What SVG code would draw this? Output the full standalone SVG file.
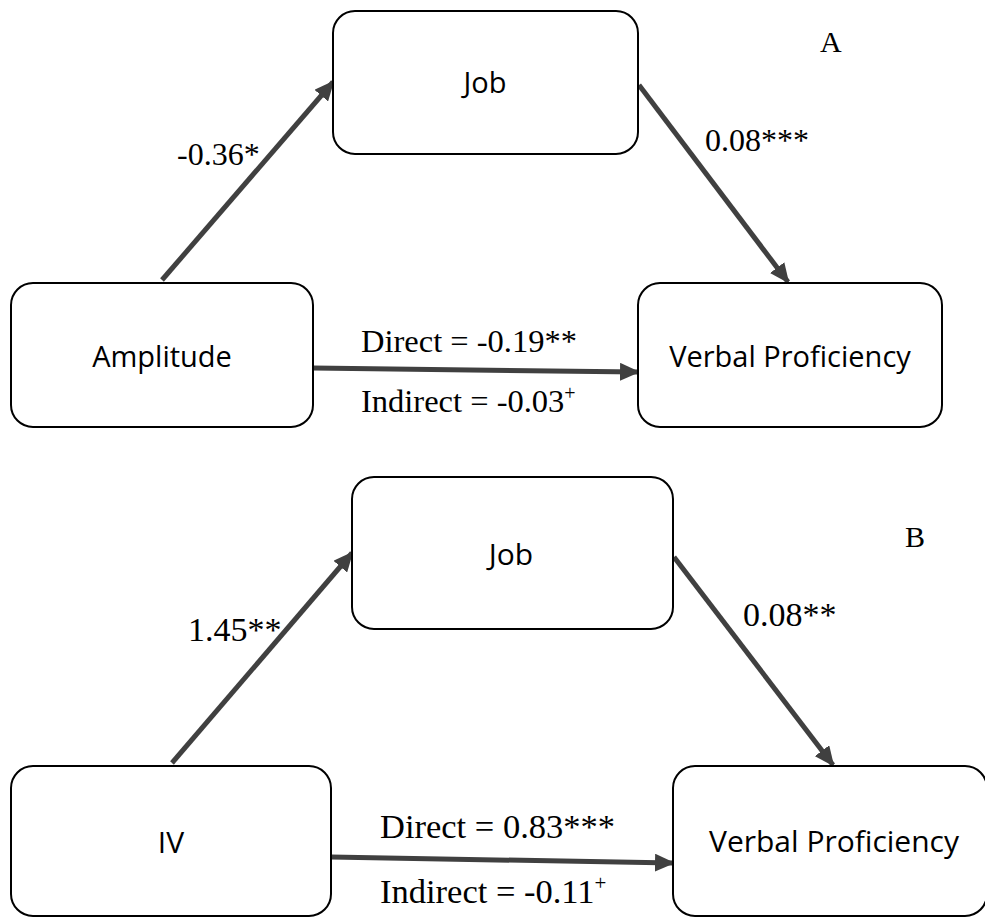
<svg xmlns="http://www.w3.org/2000/svg" width="985" height="918" viewBox="0 0 985 918">
<defs>
<style>
.box{fill:#fff;stroke:#000;stroke-width:2}
.nt{font-family:"Open Sans","Noto Sans",sans-serif;fill:#000;text-anchor:middle}
.lb{font-family:"Liberation Serif","Times New Roman",serif;fill:#000}
.ar{stroke:#404040;stroke-width:5;fill:none;marker-end:url(#ah)}
</style>
<marker id="ah" markerUnits="userSpaceOnUse" markerWidth="20" markerHeight="18" refX="18" refY="9" orient="auto" viewBox="0 0 20 18">
<path d="M0,0 L20,9 L0,18 Z" fill="#404040"/>
</marker>
</defs>
<rect width="985" height="918" fill="#fff"/>
<g id="connectors">
<line class="ar" x1="162" y1="280" x2="333" y2="82"/>
<line class="ar" x1="639" y1="85" x2="788" y2="282"/>
<line class="ar" x1="313" y1="368" x2="638" y2="372"/>
<line class="ar" x1="172" y1="763" x2="352" y2="553"/>
<line class="ar" x1="674" y1="557" x2="833" y2="765"/>
<line class="ar" x1="331" y1="857" x2="673" y2="863"/>
</g>
<g id="jobA"><rect class="box" x="333" y="11" width="305" height="143" rx="22"/><text class="nt" x="485" y="93" font-size="29">Job</text></g>
<g id="amplitude"><rect class="box" x="11" y="283" width="302" height="144" rx="22"/><text class="nt" x="162" y="367" font-size="29">Amplitude</text></g>
<g id="vpA"><rect class="box" x="638" y="283" width="304" height="144" rx="22"/><text class="nt" x="790" y="367" font-size="29">Verbal Proficiency</text></g>
<g id="jobB"><rect class="box" x="352" y="477" width="321" height="152" rx="22"/><text class="nt" x="511" y="565" font-size="30">Job</text></g>
<g id="iv"><rect class="box" x="11" y="766" width="320" height="150" rx="22"/><text class="nt" x="171" y="853" font-size="30">IV</text></g>
<g id="vpB"><rect class="box" x="673" y="766" width="314" height="150" rx="22"/><text class="nt" x="834" y="852" font-size="30">Verbal Proficiency</text></g>
<g id="labels">
<text class="lb" x="820" y="52" font-size="30">A</text>
<text class="lb" x="177" y="165" font-size="32">-0.36*</text>
<text class="lb" x="705" y="151" font-size="32">0.08***</text>
<text class="lb" x="361" y="352" font-size="32.5">Direct = -0.19**</text>
<text class="lb" x="361" y="412" font-size="32.5">Indirect = -0.03<tspan font-size="20" dy="-12">+</tspan></text>
<text class="lb" x="905" y="547" font-size="30">B</text>
<text class="lb" x="188" y="641" font-size="34">1.45**</text>
<text class="lb" x="743" y="626" font-size="34">0.08**</text>
<text class="lb" x="380" y="838" font-size="34.5">Direct = 0.83***</text>
<text class="lb" x="380" y="903" font-size="34.5">Indirect = -0.11<tspan font-size="21" dy="-13">+</tspan></text>
</g>
</svg>
